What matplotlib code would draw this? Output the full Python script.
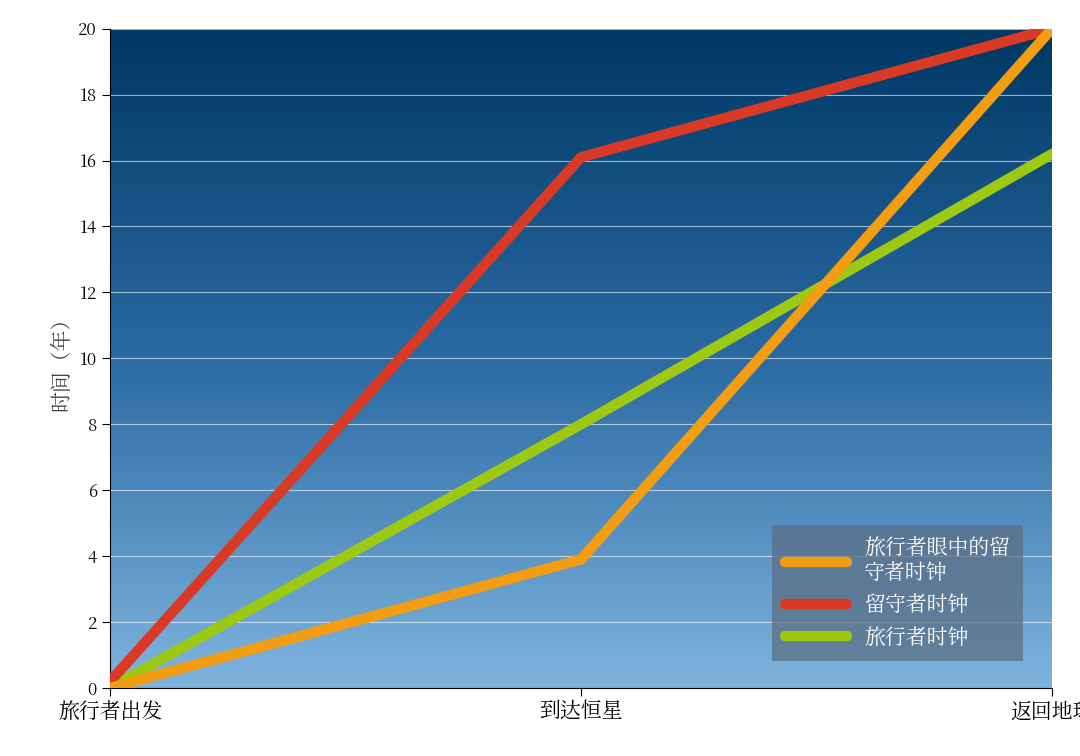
import matplotlib.pyplot as plt
import numpy as np
from matplotlib import font_manager
from matplotlib.colors import LinearSegmentedColormap

# make sure a CJK font is registered
for f in font_manager.findSystemFonts():
    if 'CJK' in f or 'cjk' in f.lower():
        try:
            font_manager.fontManager.addfont(f)
        except Exception:
            pass
cjk = [f.name for f in font_manager.fontManager.ttflist if 'CJK' in f.name]
pref = [n for n in cjk if 'SC' in n] or cjk
plt.rcParams['font.family'] = 'sans-serif'
plt.rcParams['font.sans-serif'] = pref[:1] + ['DejaVu Sans']

stages = ['旅行者出发', '到达恒星', '返回地球']
home_clock_seen = [0, 3.9, 20]     # 旅行者眼中的留守者时钟
home_clock = [0.2, 16.1, 20]       # 留守者时钟
traveler_clock = [0, 8, 16.2]      # 旅行者时钟
yticks = list(range(0, 21, 2))

fig = plt.figure(figsize=(10.8, 7.56), dpi=100)
ax = fig.add_axes([0.102, 0.09, 0.872, 0.872])

# gradient background
cmap = LinearSegmentedColormap.from_list('bg', ['#7fb4de', '#2a6aa3', '#003864'])
grad = np.linspace(0, 1, 256).reshape(-1, 1)
ax.imshow(grad, cmap=cmap, origin='lower', aspect='auto',
          extent=[0, 2, 0, 20], zorder=0)

for y in yticks[1:]:
    ax.axhline(y, color='white', lw=0.8, alpha=0.6, zorder=1)

x = np.arange(len(stages))
l1, = ax.plot(x, home_clock_seen, color='#f29d12', lw=7.5, solid_capstyle='round', zorder=4)
l2, = ax.plot(x, home_clock, color='#d83a26', lw=7.5, solid_capstyle='round', zorder=3)
l3, = ax.plot(x, traveler_clock, color='#9ec913', lw=7.5, solid_capstyle='round', zorder=2)

ax.set_xlim(0, 2)
ax.set_ylim(0, 20)
ax.set_xticks(x)
ax.set_xticklabels(stages, fontsize=15)
ax.set_yticks(yticks)
ax.set_yticklabels([str(t) for t in yticks], fontsize=12)
ax.tick_params(length=6)
ax.set_ylabel('时间（年）', fontsize=15, color='#444444')
for s in ['top', 'right']:
    ax.spines[s].set_visible(False)

leg = ax.legend([l1, l2, l3], ['旅行者眼中的留\n守者时钟', '留守者时钟', '旅行者时钟'],
                loc='lower right', bbox_to_anchor=(0.98, 0.025), fontsize=15,
                frameon=True, fancybox=False, handlelength=3, labelcolor='white',
                borderpad=0.6)
leg.get_frame().set_facecolor('#5a6f85')
leg.get_frame().set_alpha(0.75)
leg.get_frame().set_edgecolor('none')
leg.set_zorder(10)

fig.savefig('out.png', dpi=100)
